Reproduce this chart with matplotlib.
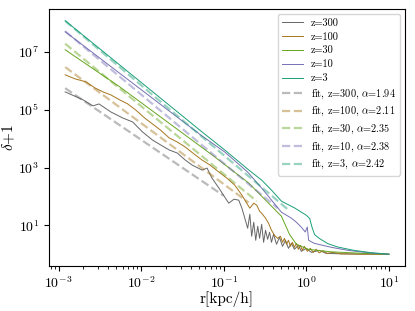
import numpy as np
import matplotlib.pyplot as plt
from matplotlib import ticker

plt.rcParams["font.family"] = "serif"
plt.rcParams["font.serif"] = ["cmr10"]
plt.rcParams["mathtext.fontset"] = "cm"
plt.rcParams["axes.formatter.use_mathtext"] = True

redshifts = [300, 100, 30, 10, 3]
colors = ["#666666", "#a6761d", "#66a61e", "#7570b3", "#1b9e77"]

# profile z=300
r_z300 = [1.2e-3, 1.98e-3, 2.61e-3, 3.08e-3, 4.29e-3, 5.97e-3, 7.88e-3, 1.04e-2, 1.37e-2,
          1.81e-2, 2.19e-2, 2.74e-2, 3.42e-2, 4.15e-2, 5.47e-2, 6.28e-2, 7.21e-2, 8.75e-2,
          0.103, 0.115, 0.133, 0.152, 0.166, 0.180, 0.195, 0.207, 0.218, 0.231, 0.244,
          0.258, 0.272, 0.288, 0.304, 0.321, 0.340, 0.359, 0.379, 0.401, 0.436, 0.474,
          0.515, 0.560, 0.608, 0.660, 0.718, 0.801, 0.871, 1.0, 1.15, 1.43, 1.74, 2.64, 10]
d_z300 = [4.19e5, 2.21e5, 1.37e5, 1.60e5, 8.45e4, 5.23e4, 3.80e4, 1.71e4, 9.0e3,
          5.58e3, 4.06e3, 3.19e3, 1.82e3, 1.22e3, 819, 961, 432, 194,
          94.6, 58.5, 80.5, 74.5, 39.3, 17.7, 7.93, 24.3, 4.19, 12.8, 3.04,
          9.31, 3.56, 10.9, 2.59, 6.76, 3.29, 5.75, 2.59, 4.91, 2.21, 3.86,
          1.88, 3.04, 1.60, 2.39, 1.48, 2.04, 1.26, 1.60, 1.16, 1.36, 1.07, 1.03, 1.0]

# profile z=100
r_z100 = [1.2e-3, 1.58e-3, 2.15e-3, 2.75e-3, 3.44e-3, 4.29e-3, 5.50e-3, 6.87e-3, 8.57e-3,
          1.10e-2, 1.37e-2, 1.71e-2, 2.19e-2, 2.74e-2, 3.42e-2, 4.38e-2, 5.47e-2, 6.83e-2,
          8.75e-2, 0.109, 0.136, 0.166, 0.190, 0.207, 0.231, 0.251, 0.272, 0.288, 0.321,
          0.349, 0.379, 0.412, 0.448, 0.487, 0.515, 0.544, 0.575, 0.608, 0.642, 0.679,
          0.718, 0.759, 0.801, 0.847, 0.895, 0.946, 1.03, 1.12, 1.21, 1.32, 1.43, 1.60,
          1.79, 2.11, 2.64, 4.58, 10]
d_z100 = [1.63e6, 1.18e6, 9.31e5, 5.75e5, 4.19e5, 3.29e5, 2.21e5, 1.60e5, 9.93e4,
          5.23e4, 3.24e4, 2.00e4, 1.06e4, 7.67e3, 5.15e3, 2.94e3, 1.82e3, 1.22e3,
          698, 432, 247, 111, 58.5, 39.3, 58.5, 49.9, 30.9, 26.3, 17.7,
          11.8, 6.76, 4.53, 3.56, 4.19, 2.59, 3.56, 2.21, 3.04, 1.88, 2.59,
          1.74, 2.39, 1.48, 2.04, 1.36, 1.88, 1.26, 1.60, 1.16, 1.48, 1.12, 1.31,
          1.07, 1.16, 1.03, 1.0, 1.0]

# profile z=30
r_z30 = [1.2e-3, 5.5e-3, 3.15e-2, 7.83e-2, 0.201, 0.349, 0.50, 0.625, 0.759, 1.057, 2.0, 4.98, 10]
d_z30 = [1.2e7, 6.24e5, 1.58e4, 2.32e3, 290, 58.5, 20.7, 4.91, 2.21, 1.48, 1.21, 1.07, 1.0]

# profile z=10
r_z10 = [1.2e-3, 1.81e-2, 5.47e-2, 0.103, 0.195, 0.288, 0.379, 0.50, 0.66, 0.759, 0.871,
         0.973, 1.028, 1.067, 1.247, 2.0, 3.2, 6.04, 10]
d_z10 = [5.07e7, 1.37e5, 1.24e4, 3.45e3, 698, 194, 74.5, 28.5, 17.7, 12.8, 8.6,
         5.9, 8.8, 3.04, 2.39, 1.74, 1.36, 1.10, 1.0]

# profile z=3
r_z3 = [1.2e-3, 5.97e-3, 1.81e-2, 5.47e-2, 0.103, 0.195, 0.288, 0.379, 0.50, 0.72, 1.0,
        1.10, 1.17, 1.26, 1.43, 1.82, 2.40, 3.78, 6.0, 10]
d_z3 = [1.22e8, 2.95e6, 2.24e5, 1.71e4, 4.06e3, 887, 368, 166, 68.7, 40.2, 22.4,
        17.2, 8.8, 4.8, 3.56, 2.33, 1.78, 1.36, 1.14, 1.0]

profiles_r = [r_z300, r_z100, r_z30, r_z10, r_z3]
profiles_d = [d_z300, d_z100, d_z30, d_z10, d_z3]

# power-law fits: amplitude at fit_r0, slope alpha, end of fit range
fit_r0 = 1.2e-3
fit_amp = [5.62e5, 3.02e6, 1.95e7, 5.25e7, 1.2e8]
fit_alpha = [1.94, 2.11, 2.35, 2.38, 2.42]
fit_rmax = [0.1, 0.2, 0.25, 0.45, 0.6]

y_ticks = [1e1, 1e3, 1e5, 1e7]

fig, ax = plt.subplots(figsize=(4.15, 3.11), dpi=100)
fig.subplots_adjust(left=0.118, right=0.976, bottom=0.145, top=0.971)

for z, r, d, c in zip(redshifts, profiles_r, profiles_d, colors):
    ax.plot(r, d, color=c, lw=0.7, label=f"z={z}")

for z, a, al, rm, c in zip(redshifts, fit_amp, fit_alpha, fit_rmax, colors):
    rr = np.array([fit_r0, rm])
    ax.plot(rr, a * (rr / fit_r0) ** (-al), "--", color=c, lw=1.6, alpha=0.45,
            label=f"fit, z={z}, $\\alpha$={al:.2f}")

ax.set_xscale("log")
ax.set_yscale("log")

pow_fmt = ticker.FuncFormatter(lambda v, pos: f"$10^{{{int(round(np.log10(v)))}}}$")
ax.xaxis.set_major_locator(ticker.LogLocator(base=10, numticks=10))
ax.xaxis.set_major_formatter(pow_fmt)
ax.yaxis.set_major_locator(ticker.FixedLocator(y_ticks))
ax.yaxis.set_minor_locator(ticker.NullLocator())
ax.yaxis.set_major_formatter(pow_fmt)

ax.set_xlabel("r[kpc/h]", fontsize=11, labelpad=0)
ax.set_ylabel(r"$\delta$+1", fontsize=11)
ax.yaxis.set_label_coords(-0.09, 0.5)
ax.tick_params(labelsize=10)
ax.legend(fontsize=7.4, loc="upper right", labelspacing=0.42)

fig.savefig("out.png", dpi=100)
